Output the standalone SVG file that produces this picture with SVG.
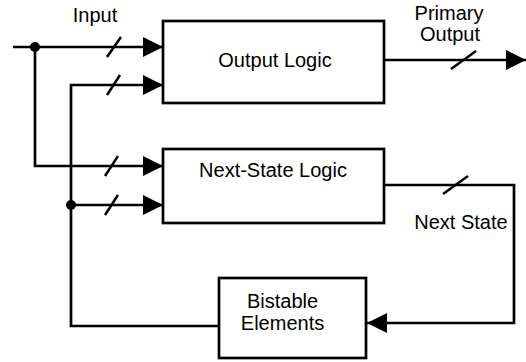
<svg xmlns="http://www.w3.org/2000/svg" width="526" height="362" viewBox="0 0 526 362">
<style>
.box{fill:#fff;stroke:#000;stroke-width:2.7}
.w{fill:none;stroke:#000;stroke-width:2.7}
.s{fill:none;stroke:#000;stroke-width:2.5}
text{font-family:"Liberation Sans",Arial,sans-serif;font-size:20px;fill:#000;text-anchor:middle}
</style>
<defs>
<marker id="ah" markerUnits="userSpaceOnUse" markerWidth="20" markerHeight="20" viewBox="0 0 18 18" refX="18" refY="9" orient="auto">
<path d="M0,0 L18,9 L0,18 Z" fill="#000"/>
</marker>
</defs>
<g id="connectors">
<path class="w" d="M13,47 H163" marker-end="url(#ah)"/>
<path class="w" d="M35,47 V166 H163" marker-end="url(#ah)"/>
<path class="w" d="M219,326 H71 V85 H163" marker-end="url(#ah)"/>
<path class="w" d="M71,205 H163" marker-end="url(#ah)"/>
<path class="w" d="M384,60 H526" marker-end="url(#ah)"/>
<path class="w" d="M384,185 H514 V323 H367" marker-end="url(#ah)"/>
<circle cx="35" cy="47" r="5" fill="#000"/>
<circle cx="71" cy="205" r="5" fill="#000"/>
<line class="s" x1="107" y1="57" x2="121" y2="37"/>
<line class="s" x1="107" y1="95" x2="120" y2="75"/>
<line class="s" x1="105" y1="176" x2="118" y2="156"/>
<line class="s" x1="105" y1="215" x2="118" y2="195"/>
<line class="s" x1="451" y1="69" x2="476" y2="51"/>
<line class="s" x1="443" y1="194" x2="468" y2="176"/>
<text x="95" y="22">Input</text>
<text x="449" y="19.5">Primary</text>
<text x="450" y="41">Output</text>
<text x="461" y="229">Next State</text>
</g>
<g id="output-logic">
<rect class="box" x="163" y="21" width="221" height="82"/>
<text x="275" y="67">Output Logic</text>
</g>
<g id="next-state-logic">
<rect class="box" x="163" y="149" width="221" height="74"/>
<text x="273" y="177">Next-State Logic</text>
</g>
<g id="bistable-elements">
<rect class="box" x="219" y="278" width="147" height="80"/>
<text x="282.5" y="308">Bistable</text>
<text x="282.5" y="330">Elements</text>
</g>
</svg>
